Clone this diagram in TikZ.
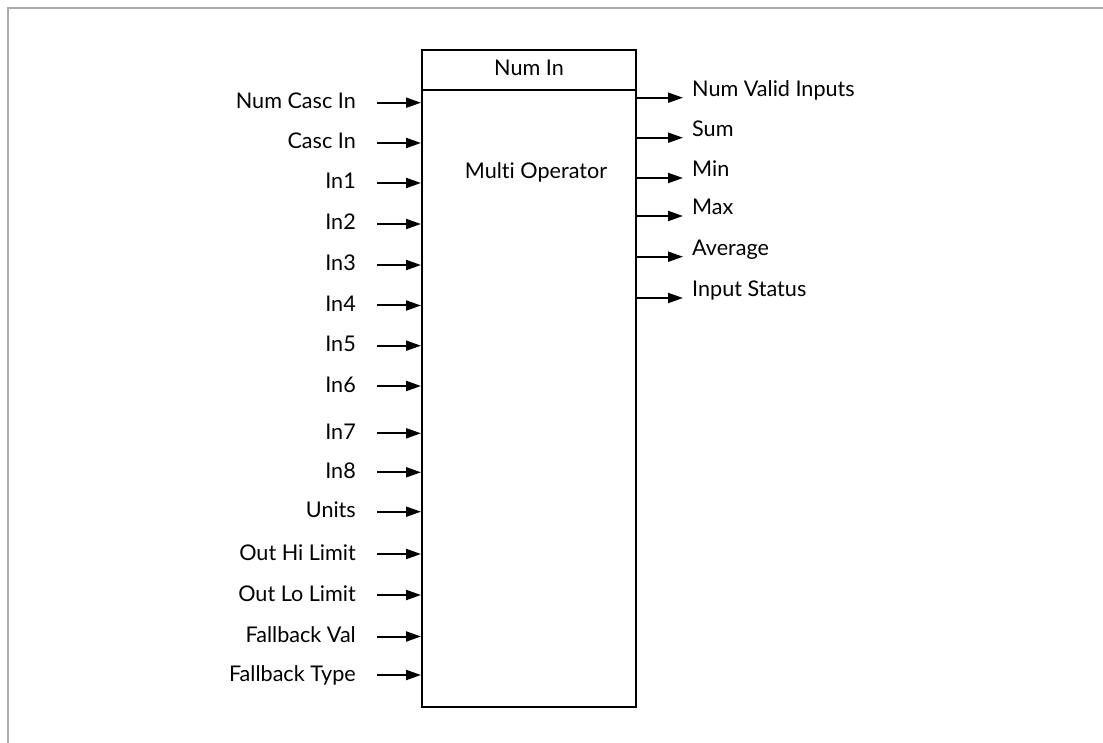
\documentclass[tikz,border=0pt]{standalone}
\usepackage{fontspec}
\setmainfont{Lato}[Ligatures=NoCommon]
\usetikzlibrary{arrows.meta}
\begin{document}
\begin{tikzpicture}[x=1pt,y=-1pt,
  lbl/.style={inner sep=0pt,font=\fontsize{21.6}{26}\selectfont},
  arr/.style={line width=2pt,-{Triangle[length=15pt,width=10pt]}},
  frame/.style={draw=black!33,line width=2pt},
  opbox/.style={draw,line width=2pt,minimum width=214pt,minimum height=657pt,inner sep=0pt}]
\useasboundingbox (0,0) rectangle (1103,743);
\draw[frame] (8,743) -- (8,8) -- (1103,8);
\node[opbox] (op) at (529,378.5) {};
\coordinate (dl) at (422,90);
\coordinate (dr) at (636,90);
\draw[line width=2pt] (dl) -- (dr);
\node[lbl,anchor=base] (hdr) at (529,75.5) {Num In};
\node[lbl,anchor=base] (title) at (536,178.3) {Multi Operator};
% inputs
\foreach \t/\y [count=\i] in {Num Casc In/102.7, Casc In/143, In1/183, In2/224, In3/265, In4/305.5, In5/345.7, In6/386, In7/433.3, In8/472.3, Units/511.7, Out Hi Limit/554, Out Lo Limit/595, Fallback Val/636.5, Fallback Type/675}{
  \node[lbl,anchor=base east] (in\i) at (356,\y+6) {\t};
  \coordinate (is\i) at (377,\y);
  \draw[arr] (is\i) -- (is\i -| op.west);
}
% outputs
\foreach \t/\y [count=\i] in {Num Valid Inputs/97.7, Sum/137.7, Min/178, Max/216, Average/256.7, Input Status/298}{
  \coordinate (oe\i) at (683,\y);
  \draw[arr] (oe\i -| op.east) -- (oe\i);
  \node[lbl,anchor=base west] (out\i) at (692,\y-1.5) {\t};
}
\end{tikzpicture}
\end{document}
